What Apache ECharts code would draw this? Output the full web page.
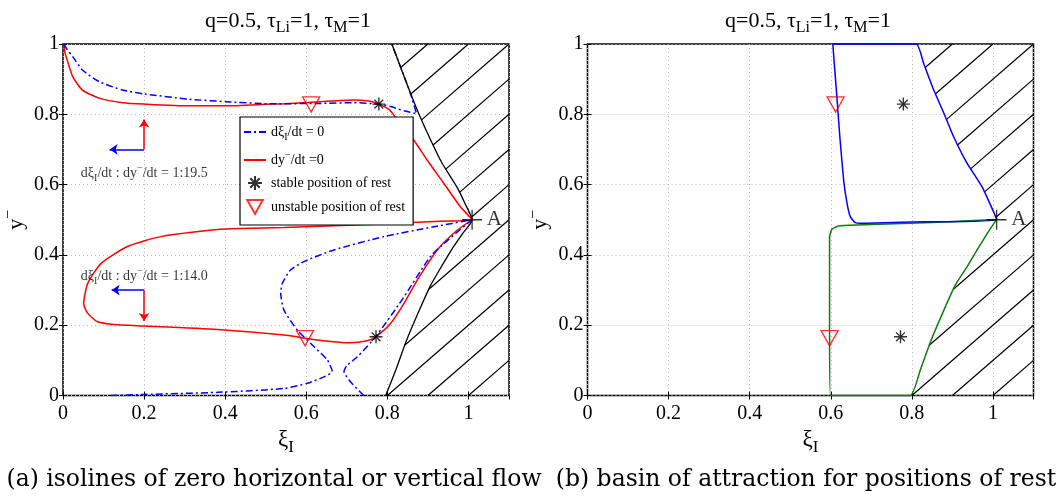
<!DOCTYPE html>
<html><head><meta charset="utf-8">
<script src="https://cdn.jsdelivr.net/npm/echarts@6/dist/echarts.min.js"></script>
<style>html,body{margin:0;padding:0;background:#fff}#c{width:1061px;height:497px}</style>
</head><body><div id="c"></div>
<script>
// ---------- data ----------
const xTickLabels = ['0', '0.2', '0.4', '0.6', '0.8', '1'];
const yTickLabels = ['0', '0.2', '0.4', '0.6', '0.8', '1'];

// dy/dt = 0 isoline (red), upper branch then lower loop
const redIsoline = [
  [0.002,1.0],[0.005,0.975],[0.011,0.952],[0.024,0.907],[0.048,0.869],[0.089,0.846],[0.147,0.833],
  [0.2,0.829],[0.311,0.824],[0.401,0.824],[0.512,0.829],[0.549,0.830],[0.635,0.836],[0.717,0.841],
  [0.758,0.837],[0.779,0.829],[0.804,0.814],[0.82,0.792],[0.865,0.727],[0.898,0.67],[0.939,0.604],
  [0.98,0.537],[1.009,0.5],
  [0.93,0.496],[0.791,0.488],[0.545,0.478],[0.438,0.475],[0.381,0.472],[0.241,0.452],[0.159,0.424],
  [0.094,0.376],[0.061,0.319],[0.051,0.262],[0.06,0.235],[0.085,0.21],[0.135,0.201],[0.2,0.198],
  [0.381,0.188],[0.545,0.172],[0.627,0.158],[0.709,0.150],[0.75,0.156],[0.771,0.167],[0.808,0.205],
  [0.841,0.262],[0.874,0.329],[0.923,0.414],[0.972,0.47],[1.009,0.5]
];
// dxi/dt = 0 isolines (blue dash-dot)
const blueIsolineUpper = [
  [0.002,1.0],[0.01,0.985],[0.024,0.964],[0.048,0.926],[0.089,0.893],[0.147,0.869],[0.2,0.858],
  [0.311,0.843],[0.401,0.836],[0.512,0.83],[0.635,0.831],[0.717,0.833],[0.779,0.829],[0.808,0.822],
  [0.841,0.81],[0.872,0.802],[0.854,0.869],[0.829,0.945],[0.811,1.0]
];
const blueIsolineLower1 = [
  [0.118,0.0],[0.2,0.003],[0.381,0.009],[0.545,0.02],[0.603,0.035],[0.644,0.053],[0.664,0.068],
  [0.652,0.101],[0.611,0.148],[0.578,0.186],[0.545,0.243],[0.537,0.291],[0.541,0.319],[0.561,0.357],
  [0.594,0.381],[0.668,0.414],[0.791,0.452],[0.915,0.48],[1.009,0.5]
];
const blueIsolineLower2 = [
  [0.742,0.0],[0.709,0.039],[0.693,0.068],[0.700,0.085],[0.726,0.110],[0.771,0.167],[0.836,0.272],
  [0.906,0.395],[0.952,0.445],[1.009,0.5]
];
// boundary of the inaccessible (hatched) region, top to bottom
const forbiddenBoundary = [
  [0.811,1.0],[0.829,0.945],[0.854,0.869],[0.877,0.803],[0.903,0.736],[0.933,0.665],[0.972,0.592],
  [0.992,0.545],[1.009,0.5],[0.986,0.461],[0.959,0.416],[0.934,0.368],[0.907,0.314],[0.879,0.243],
  [0.846,0.153],[0.821,0.073],[0.796,0.0]
];
const hatchOffsets = [-0.1,0,0.1,0.2,0.3,0.4,0.5,0.6,0.7,0.8,0.9,1.0];
// basins of attraction (panel b)
const basinUpper = [
  [0.605,1.0],[0.811,1.0],[0.829,0.945],[0.854,0.869],[0.879,0.803],[0.903,0.736],[0.936,0.661],
  [0.973,0.594],[1.009,0.501],[0.83,0.494],[0.673,0.49],[0.66,0.492],[0.648,0.509],[0.64,0.547],
  [0.632,0.61],[0.623,0.727],[0.615,0.85],[0.609,0.94],[0.605,1.0]
];
const basinLower = [
  [1.009,0.501],[0.986,0.461],[0.961,0.414],[0.936,0.366],[0.907,0.314],[0.879,0.243],[0.846,0.153],
  [0.821,0.073],[0.796,0.0],[0.599,0.0],[0.597,0.2],[0.597,0.452],[0.603,0.473],[0.619,0.482],
  [0.664,0.485],[0.85,0.492],[1.009,0.501]
];
const stablePoints = [[0.779,0.829],[0.772,0.167]];
const unstablePoints = [[0.612,0.828],[0.597,0.163]];
const pointA = [[1.009,0.5]];
const flowArrowsBlue = [[[0.2,0.70],[0.115,0.70]], [[0.2,0.30],[0.12,0.30]]];
const flowArrowsRed = [[[0.2,0.70],[0.2,0.785]], [[0.2,0.30],[0.2,0.212]]];
const flowRatioLabels = [[0.044,0.633,'1:19.5'],[0.044,0.338,'1:14.0']];

// ---------- helpers ----------
const SERIF = 'Liberation Serif';
function bxAt(y, b) {
  for (let i = 0; i < b.length - 1; i++) {
    const [x0, y0] = b[i], [x1, y1] = b[i + 1];
    if (y >= y0 && y <= y1) { const t = (y1 - y0) ? (y - y0) / (y1 - y0) : 0; return x0 + t * (x1 - x0); }
  }
  return y < b[0][1] ? b[0][0] : b[b.length - 1][0];
}
function hatchSegments(bnd, xmax, ymax) {
  const b = bnd.slice().sort((p, q) => p[1] - q[1]);
  const segs = [];
  hatchOffsets.forEach(c => {
    let ys = Math.max(0, -c), ye = Math.min(ymax, xmax - c);
    if (ye <= ys) return;
    const f = y => y + c - bxAt(y, b);
    if (f(ye) <= 0) return;
    if (f(ys) < 0) {
      let lo = ys, hi = ye;
      for (let k = 0; k < 60; k++) { const m = (lo + hi) / 2; if (f(m) < 0) lo = m; else hi = m; }
      ys = hi;
    }
    segs.push({ coords: [[ys + c, ys], [ye + c, ye]] });
  });
  return segs;
}
// m: main text, b: subscript, t: superscript
function richStyles(f, d) {
  const s = Math.round(f * 0.72);
  return {
    m: { fontFamily: SERIF, fontSize: f, fontWeight: 'normal', lineHeight: f + 2 * d, verticalAlign: 'middle', color: '#000' },
    b: { fontFamily: SERIF, fontSize: s, fontWeight: 'normal', lineHeight: s, verticalAlign: 'bottom', color: '#000' },
    t: { fontFamily: SERIF, fontSize: s, fontWeight: 'normal', lineHeight: s, verticalAlign: 'top', color: '#000' }
  };
}
const starPath = 'path://M5,0L5,10M0,5L10,5M1.6,1.6L8.4,8.4M1.6,8.4L8.4,1.6';
const plusPath = 'path://M5,0L5,10M0,5L10,5';
const triPath = 'path://M0,0L10,0L5,9Z';

const gridRects = [
  { left: 62, top: 44, width: 447, height: 351.5 },
  { left: 587.5, top: 44, width: 446, height: 351.5 }
];
const tickFont = { fontFamily: SERIF, fontSize: 20, color: '#000' };
function xAxes(gi) {
  const base = { gridIndex: gi, type: 'value', min: 0, max: 1.1, interval: 0.2 };
  return [
    Object.assign({}, base, {
      position: 'bottom',
      axisLine: { show: false },
      axisTick: { show: true, inside: true, length: 4, lineStyle: { color: '#000' } },
      axisLabel: Object.assign({ show: true, margin: 8, showMaxLabel: false,
        formatter: v => { const i = Math.round(v / 0.2); return (Math.abs(v - i * 0.2) < 1e-6 && xTickLabels[i] !== undefined) ? xTickLabels[i] : ''; } }, tickFont),
      splitLine: { show: true, lineStyle: { color: '#b8b8b8', type: [1, 3], width: 1 } },
      name: '{m|ξ}{b|I}', nameLocation: 'middle', nameGap: 24,
      nameTextStyle: { rich: richStyles(23, 5) }
    }),
    Object.assign({}, base, {
      position: 'top', axisLine: { show: false },
      axisTick: { show: true, inside: true, length: 4, lineStyle: { color: '#000' } },
      axisLabel: { show: false }, splitLine: { show: false }
    })
  ];
}
function yAxes(gi) {
  const base = { gridIndex: gi, type: 'value', min: 0, max: 1, interval: 0.2 };
  return [
    Object.assign({}, base, {
      position: 'left', axisLine: { show: false },
      axisTick: { show: true, inside: true, length: 4, lineStyle: { color: '#000' } },
      axisLabel: Object.assign({ show: true, margin: 4,
        formatter: v => { const i = Math.round(v / 0.2); return yTickLabels[i] !== undefined ? yTickLabels[i] : ''; } }, tickFont),
      splitLine: { show: true, lineStyle: { color: '#b8b8b8', type: [1, 3], width: 1 } },
      name: '{m|y}{t|−}', nameLocation: 'middle', nameGap: 32, nameRotate: 90,
      nameTextStyle: { rich: richStyles(22, 4) }
    }),
    Object.assign({}, base, {
      position: 'right', axisLine: { show: false },
      axisTick: { show: true, inside: true, length: 4, lineStyle: { color: '#000' } },
      axisLabel: { show: false }, splitLine: { show: false }
    })
  ];
}
function markerSeries(gi, name) {
  const ax = gi * 2;
  return [
    { type: 'scatter', name: name ? 'stable' : 'stable_b', xAxisIndex: ax, yAxisIndex: ax, data: stablePoints,
      symbol: starPath, symbolSize: 13, silent: true, z: 10,
      itemStyle: { color: 'rgba(0,0,0,0)', borderColor: '#000', borderWidth: 1.4 } },
    { type: 'scatter', name: name ? 'unstable' : 'unstable_b', xAxisIndex: ax, yAxisIndex: ax, data: unstablePoints,
      symbol: triPath, symbolSize: [17, 15], silent: true, z: 10,
      itemStyle: { color: 'rgba(0,0,0,0)', borderColor: '#ff0000', borderWidth: 1.4 } },
    { type: 'scatter', name: 'A' + gi, xAxisIndex: ax, yAxisIndex: ax, data: pointA,
      symbol: plusPath, symbolSize: 20, silent: true, z: 10,
      itemStyle: { color: 'rgba(0,0,0,0)', borderColor: '#000', borderWidth: 1.3 },
      label: { show: true, position: 'right', distance: 4, formatter: 'A', fontFamily: SERIF, fontSize: 21, color: '#000' } }
  ];
}
const titleText = '{m|q=0.5, τ}{b|Li}{m|=1, τ}{b|M}{m|=1}';
const dash = [7, 3, 2, 3];

const series = [
  // panel a
  { type: 'lines', coordinateSystem: 'cartesian2d', xAxisIndex: 0, yAxisIndex: 0, silent: true, z: 2,
    data: hatchSegments(forbiddenBoundary, 1.1, 1.0), lineStyle: { color: '#000', width: 1.2, opacity: 1 } },
  { type: 'line', name: 'ydot', xAxisIndex: 0, yAxisIndex: 0, data: redIsoline, symbol: 'none', smooth: 0.2, z: 3,
    lineStyle: { color: '#ff0000', width: 1.5 }, itemStyle: { color: '#ff0000' }, silent: true },
  { type: 'line', name: 'xidot', xAxisIndex: 0, yAxisIndex: 0, data: blueIsolineUpper, symbol: 'none', smooth: 0.2, z: 4,
    lineStyle: { color: '#0000ff', width: 1.5, type: dash }, itemStyle: { color: '#0000ff' }, silent: true },
  { type: 'line', name: 'xidot2', xAxisIndex: 0, yAxisIndex: 0, data: blueIsolineLower1, symbol: 'none', smooth: 0.2, z: 4,
    lineStyle: { color: '#0000ff', width: 1.5, type: dash }, silent: true },
  { type: 'line', name: 'xidot3', xAxisIndex: 0, yAxisIndex: 0, data: blueIsolineLower2, symbol: 'none', smooth: 0.2, z: 4,
    lineStyle: { color: '#0000ff', width: 1.5, type: dash }, silent: true },
  { type: 'line', name: 'boundary', xAxisIndex: 0, yAxisIndex: 0, data: forbiddenBoundary, symbol: 'none', smooth: 0.2, z: 5,
    lineStyle: { color: '#000', width: 1.3 }, silent: true },
  { type: 'lines', coordinateSystem: 'cartesian2d', xAxisIndex: 0, yAxisIndex: 0, silent: true, z: 6,
    data: flowArrowsBlue.map(c => ({ coords: c })), symbol: ['none', 'arrow'], symbolSize: 8,
    lineStyle: { color: '#0000ff', width: 1.5, opacity: 1 } },
  { type: 'lines', coordinateSystem: 'cartesian2d', xAxisIndex: 0, yAxisIndex: 0, silent: true, z: 6,
    data: flowArrowsRed.map(c => ({ coords: c })), symbol: ['none', 'arrow'], symbolSize: 8,
    lineStyle: { color: '#ff0000', width: 1.5, opacity: 1 } },
  { type: 'scatter', name: 'ratios', xAxisIndex: 0, yAxisIndex: 0, silent: true, z: 7, symbolSize: 0,
    data: flowRatioLabels.map(d => ({ value: [d[0], d[1]], ratio: d[2] })),
    label: { show: true, position: 'right', distance: 0, rich: richStyles(14, 3),
      formatter: p => '{m|dξ}{b|I}{m|/dt : dy}{t|−}{m|/dt = ' + p.data.ratio + '}' } },
  ...markerSeries(0, true),
  // panel b
  { type: 'lines', coordinateSystem: 'cartesian2d', xAxisIndex: 2, yAxisIndex: 2, silent: true, z: 2,
    data: hatchSegments(forbiddenBoundary, 1.1, 1.0), lineStyle: { color: '#000', width: 1.2, opacity: 1 } },
  { type: 'line', name: 'basinU', xAxisIndex: 2, yAxisIndex: 2, data: basinUpper, symbol: 'none', smooth: 0.15, z: 4,
    lineStyle: { color: '#0000ff', width: 1.5 }, silent: true, clip: false },
  { type: 'line', name: 'basinL', xAxisIndex: 2, yAxisIndex: 2, data: basinLower, symbol: 'none', smooth: 0.15, z: 3,
    lineStyle: { color: '#0a800a', width: 1.5 }, silent: true, clip: false },
  ...markerSeries(1, false)
];

const legendNames = {
  xidot: '{m|dξ}{b|I}{m|/dt = 0}',
  ydot: '{m|dy}{t|−}{m|/dt =0}',
  stable: '{m|stable position of rest}',
  unstable: '{m|unstable position of rest}'
};
const hiddenDot = { color: 'rgba(0,0,0,0)', borderWidth: 0 };

const option = {
  animation: false,
  backgroundColor: '#fff',
  grid: gridRects.map(r => Object.assign({ show: true, borderColor: '#000', borderWidth: 1.5, backgroundColor: 'transparent', containLabel: false }, r)),
  xAxis: [...xAxes(0), ...xAxes(1)],
  yAxis: [...yAxes(0), ...yAxes(1)],
  title: [
    { text: titleText, left: 283, top: 1, textAlign: 'center', textStyle: { fontWeight: 'normal', rich: richStyles(22, 4) } },
    { text: titleText, left: 803, top: 1, textAlign: 'center', textStyle: { fontWeight: 'normal', rich: richStyles(22, 4) } }
  ],
  legend: {
    data: [
      { name: 'xidot', itemStyle: hiddenDot },
      { name: 'ydot', itemStyle: hiddenDot },
      { name: 'stable' },
      { name: 'unstable' }
    ],
    left: 240, top: 117, orient: 'vertical', selectedMode: false,
    backgroundColor: '#fff', borderColor: '#000', borderWidth: 1.2, borderRadius: 0,
    padding: [8, 8, 10, 3], itemGap: 8, itemWidth: 22, itemHeight: 14,
    textStyle: { rich: richStyles(14, 3) },
    formatter: n => legendNames[n] || n
  },
  graphic: [
    { type: 'text', x: 274, y: 480, silent: true,
      style: { text: '(a) isolines of zero horizontal or vertical flow', font: '23.5px "DejaVu Serif"', fill: '#000', textAlign: 'center', textVerticalAlign: 'middle' } },
    { type: 'text', x: 806, y: 480, silent: true,
      style: { text: '(b) basin of attraction for positions of rest', font: '23.5px "DejaVu Serif"', fill: '#000', textAlign: 'center', textVerticalAlign: 'middle' } }
  ],
  series
};
const chart = echarts.init(document.getElementById('c'), null, { renderer: 'canvas' });
chart.setOption(option);
</script></body></html>
